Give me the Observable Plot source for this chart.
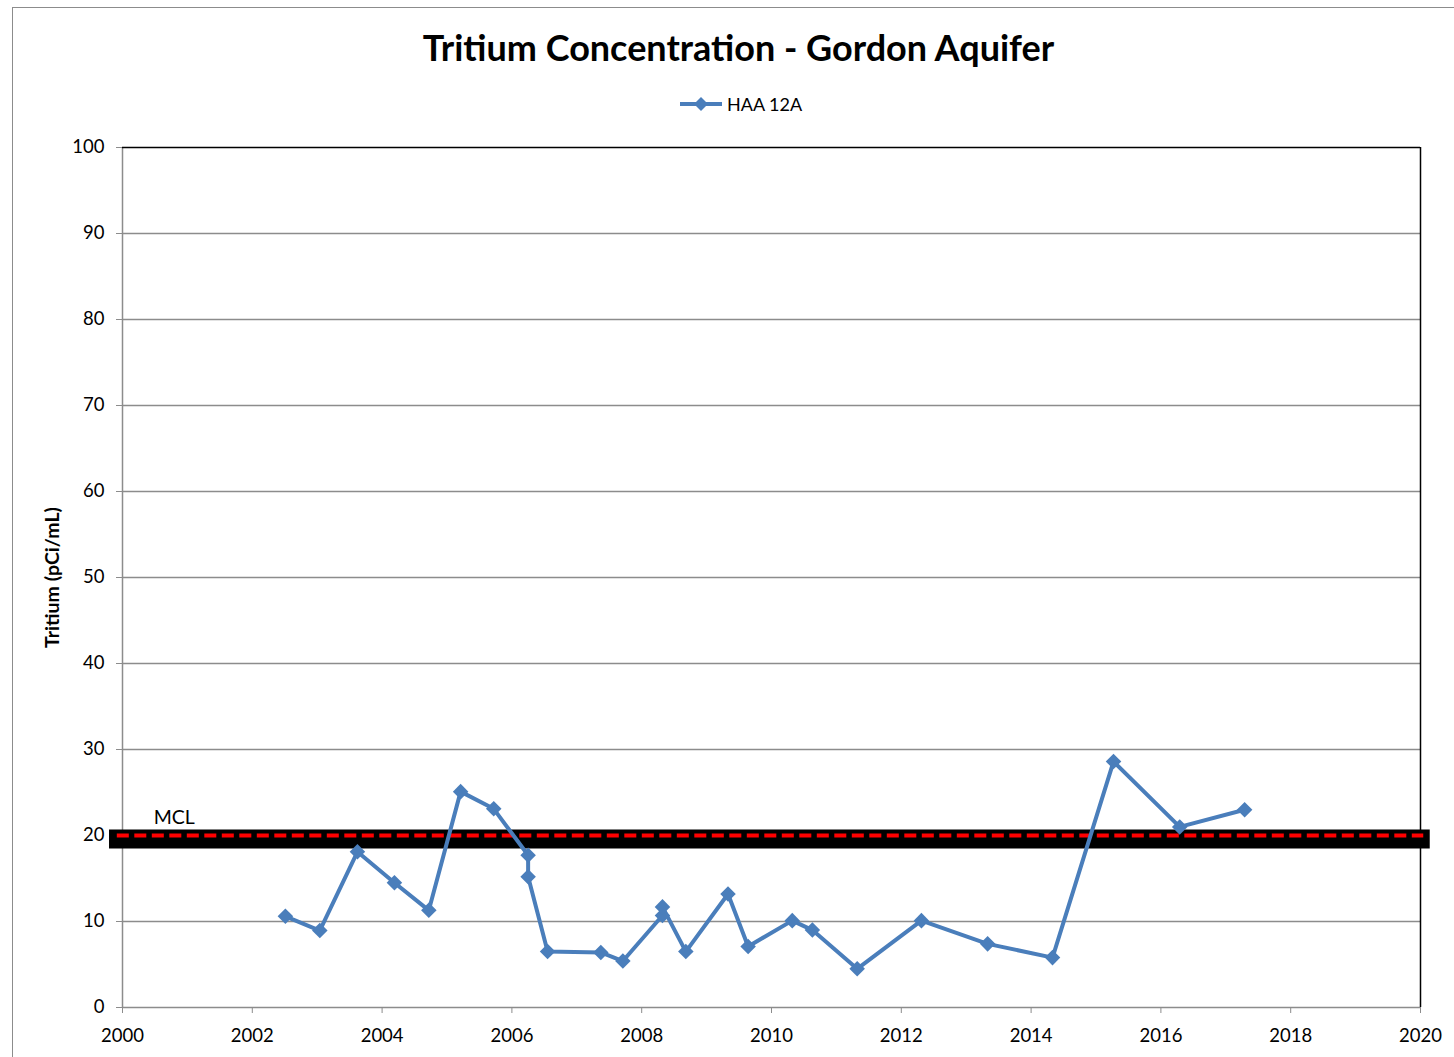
<!DOCTYPE html>
<html><head><meta charset="utf-8">
<script src="https://cdn.jsdelivr.net/npm/d3@7"></script>
<script src="https://cdn.jsdelivr.net/npm/@observablehq/plot@0.6"></script>
<style>
body{margin:0;background:#fff;font-family:Lato,"Open Sans",sans-serif;}
#wrap{position:relative;width:1454px;height:1057px;overflow:hidden;background:#fff;}
#border{position:absolute;left:12px;top:7px;width:1500px;height:1100px;border:1.5px solid #8c8c8c;}
#title{position:absolute;top:25px;left:0;width:1477px;text-align:center;font-weight:bold;font-size:36px;line-height:44px;color:#000;}
#legend{position:absolute;top:93px;left:679px;height:22px;display:flex;align-items:center;font-size:18px;color:#000;}
#legend svg{margin-right:4px;}
#chart{position:absolute;top:130px;left:0;}
g[aria-label="y-axis label"] text{font-weight:bold;font-size:19.5px;}
</style>
</head><body>
<div id="wrap">
  <div id="border"></div>
  <div id="title"></div>
  <div id="legend"></div>
  <div id="chart"></div>
</div>
<script>
// ---- data ----
const chartTitle = "Tritium Concentration - Gordon Aquifer";
const seriesName = "HAA 12A";
const yLabel = "Tritium (pCi/mL)";
const sampleYears = [2002.51, 2003.04, 2003.62, 2004.19, 2004.72, 2005.21, 2005.72, 2006.25, 2006.25, 2006.55,
  2007.37, 2007.71, 2008.32, 2008.32, 2008.68, 2009.33, 2009.64, 2010.32, 2010.63, 2011.32,
  2012.31, 2013.33, 2014.33, 2015.27, 2016.29, 2017.29];
const tritiumValues = [10.6, 8.95, 18.1, 14.5, 11.3, 25.1, 23.1, 17.7, 15.2, 6.5,
  6.4, 5.4, 10.7, 11.7, 6.5, 13.2, 7.1, 10.1, 9.0, 4.5,
  10.1, 7.4, 5.8, 28.6, 21.0, 23.0];
const xTicks = [2000, 2002, 2004, 2006, 2008, 2010, 2012, 2014, 2016, 2018, 2020];
const yTicks = [0, 10, 20, 30, 40, 50, 60, 70, 80, 90, 100];
const mclValue = 20;
const mclBandValue = 19.6;
const mclBandStart = 1999.8;
const mclBandEnd = 2020.15;
const mclLabel = "MCL";
const mclLabelPos = [{x: 2000.48, y: 22.1}];

const data = sampleYears.map((x, i) => ({x, y: tritiumValues[i]}));
const blue = "#4a7ebb";

document.getElementById("title").textContent = chartTitle;
document.getElementById("legend").innerHTML =
  `<svg width="44" height="20"><line x1="1" y1="10" x2="43" y2="10" stroke="${blue}" stroke-width="4"/>` +
  `<path d="M22,3 L29,10 L22,17 L15,10 Z" fill="${blue}"/></svg><span>${seriesName}</span>`;

const plot = Plot.plot({
  width: 1454,
  height: 927,
  marginTop: 17,
  marginBottom: 50,
  marginLeft: 122,
  marginRight: 34,
  style: {fontFamily: "Lato, 'Open Sans', sans-serif", fontSize: "18.5px", color: "#000", background: "transparent", overflow: "visible"},
  x: {domain: [2000, 2020]},
  y: {domain: [0, 100]},
  marks: [
    Plot.ruleY(yTicks.filter(d => d > 0 && d < 100), {stroke: "#8c8c8c", strokeWidth: 1.3}),
    Plot.ruleY([0], {stroke: "#8c8c8c", strokeWidth: 1.5}),
    Plot.ruleX([2000], {stroke: "#8c8c8c", strokeWidth: 1.5}),
    Plot.ruleY([100], {stroke: "#000", strokeWidth: 1.5}),
    Plot.ruleX([2020], {stroke: "#000", strokeWidth: 1.5}),
    Plot.axisY({ticks: yTicks, tickSize: 6, tickPadding: 12, stroke: "#8c8c8c", fill: "#000",
      label: yLabel, labelAnchor: "center", labelOffset: 77, labelArrow: "none"}),
    Plot.axisX({ticks: xTicks, tickSize: 6, tickPadding: 15, tickFormat: "d", stroke: "#8c8c8c", fill: "#000", label: null}),
    Plot.ruleY([mclBandValue], {x1: mclBandStart, x2: mclBandEnd, stroke: "#000", strokeWidth: 19}),
    Plot.ruleY([mclValue], {x1: mclBandStart + 0.12, x2: mclBandEnd - 0.1, stroke: "#ff0000", strokeWidth: 4, strokeDasharray: "12,5.5"}),
    Plot.text(mclLabelPos, {x: "x", y: "y", text: () => mclLabel, textAnchor: "start", fontSize: 19.5, fill: "#000"}),
    Plot.line(data, {x: "x", y: "y", stroke: blue, strokeWidth: 4, strokeLinejoin: "round"}),
    Plot.dot(data, {x: "x", y: "y", symbol: "diamond2", r: 7, fill: blue, stroke: "none"})
  ]
});
document.getElementById("chart").appendChild(plot);
</script>
</body></html>
